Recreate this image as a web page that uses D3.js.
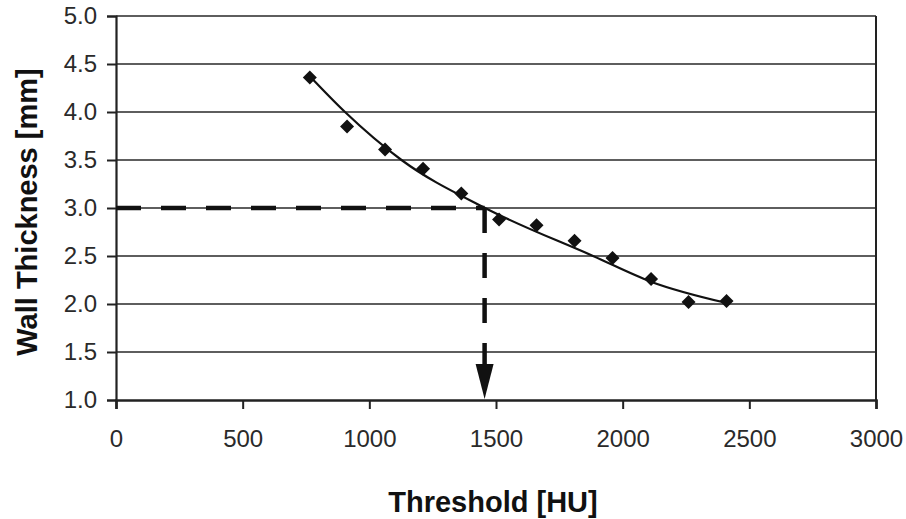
<!DOCTYPE html>
<meta charset="utf-8">
<script src="https://cdn.jsdelivr.net/npm/d3@7"></script>
<style>
  body { margin: 0; background: #fff; }
  text { font-family: "Liberation Sans", Arial, sans-serif; fill: #222; }
</style>
<body>
<div id="chart"></div>
<script>
  // measured points (threshold HU, wall thickness mm)
  var thresholds = [765, 912, 1062, 1212, 1363, 1512, 1660, 1810, 1960, 2112, 2260, 2410];
  var thickness  = [4.36, 3.85, 3.61, 3.41, 3.15, 2.88, 2.82, 2.66, 2.48, 2.26, 2.02, 2.03];

  // trend line
  var trendX = [766, 904, 1127, 1457, 1883, 2114, 2411];
  var trendY = [4.37, 4.0, 3.5, 3.0, 2.5, 2.23, 2.01];

  // the cut-off marked by the dashed lines
  var cutX = 1455, cutY = 3.0;

  var xTicks = [0, 500, 1000, 1500, 2000, 2500, 3000];
  var yTicks = [1.0, 1.5, 2.0, 2.5, 3.0, 3.5, 4.0, 4.5, 5.0];

  var W = 906, H = 519;
  var svg = d3.select("#chart").append("svg")
      .attr("width", W).attr("height", H);

  var x = d3.scaleLinear().domain([0, 3000]).range([116, 876]);
  var y = d3.scaleLinear().domain([1, 5]).range([400, 16]);

  // gridlines
  svg.append("g").selectAll("line").data(yTicks.slice(1)).enter().append("line")
    .attr("x1", x(0)).attr("x2", x(3000))
    .attr("y1", function(d) { return y(d); })
    .attr("y2", function(d) { return y(d); })
    .style("stroke", "#5e5e5e").style("stroke-width", 1.8);

  // right border
  svg.append("line")
    .attr("x1", x(3000)).attr("x2", x(3000))
    .attr("y1", y(5)).attr("y2", y(1))
    .style("stroke", "#222").style("stroke-width", 2);

  // y axis
  var yAxis = svg.append("g")
    .attr("transform", "translate(" + x(0) + ",0)")
    .call(d3.axisLeft(y).tickValues(yTicks).tickSize(9).tickPadding(10)
          .tickFormat(d3.format(".1f")));
  yAxis.select(".domain").style("stroke", "#222").style("stroke-width", 2.2);
  yAxis.selectAll(".tick line").style("stroke", "#222").style("stroke-width", 2);
  yAxis.selectAll("text").style("font-size", "24px").style("fill", "#2a2a2a")
    .attr("font-family", null).attr("x", -19);

  // x axis
  var xAxis = svg.append("g")
    .attr("transform", "translate(0," + y(1) + ")")
    .call(d3.axisBottom(x).tickValues(xTicks).tickSize(9).tickFormat(d3.format("d")));
  xAxis.select(".domain").style("stroke", "#222").style("stroke-width", 2.6);
  xAxis.selectAll(".tick line").style("stroke", "#222").style("stroke-width", 2);
  xAxis.selectAll("text").style("font-size", "24px").style("fill", "#2a2a2a")
    .attr("font-family", null).attr("y", 47).attr("dy", 0);

  // axis titles
  svg.append("text")
    .attr("x", 493).attr("y", 512)
    .attr("text-anchor", "middle")
    .style("font-weight", "bold").style("font-size", "29px").style("fill", "#111")
    .text("Threshold [HU]");

  svg.append("text")
    .attr("transform", "translate(37,212)rotate(-90)")
    .attr("text-anchor", "middle")
    .style("font-weight", "bold").style("font-size", "29px").style("fill", "#111")
    .text("Wall Thickness [mm]");

  // dashed guide lines
  svg.append("line")
    .attr("x1", x(0)).attr("x2", x(cutX))
    .attr("y1", y(cutY)).attr("y2", y(cutY))
    .style("stroke", "#111").style("stroke-width", 4.5)
    .style("stroke-dasharray", "25,20");

  svg.append("line")
    .attr("x1", x(cutX)).attr("x2", x(cutX))
    .attr("y1", y(cutY)).attr("y2", y(1) - 30)
    .style("stroke", "#111").style("stroke-width", 4.5)
    .style("stroke-dasharray", "25,20");

  svg.append("path")
    .attr("d", "M" + (x(cutX) - 9) + "," + (y(1) - 36) +
               "L" + (x(cutX) + 9) + "," + (y(1) - 36) +
               "L" + x(cutX) + "," + (y(1) - 1) + "Z")
    .style("fill", "#111");

  // trend line
  var trend = trendX.map(function(d, i) { return [d, trendY[i]]; });
  svg.append("path")
    .datum(trend)
    .attr("d", d3.line()
      .x(function(d) { return x(d[0]); })
      .y(function(d) { return y(d[1]); })
      .curve(d3.curveMonotoneX))
    .style("fill", "none").style("stroke", "#111").style("stroke-width", 2.2);

  // diamonds
  var pts = thresholds.map(function(d, i) { return {x: d, y: thickness[i]}; });
  svg.append("g").selectAll("path").data(pts).enter().append("path")
    .attr("transform", function(d) { return "translate(" + x(d.x) + "," + y(d.y) + ")"; })
    .attr("d", "M0,-7L7,0L0,7L-7,0Z")
    .style("fill", "#111");
</script>
</body>
